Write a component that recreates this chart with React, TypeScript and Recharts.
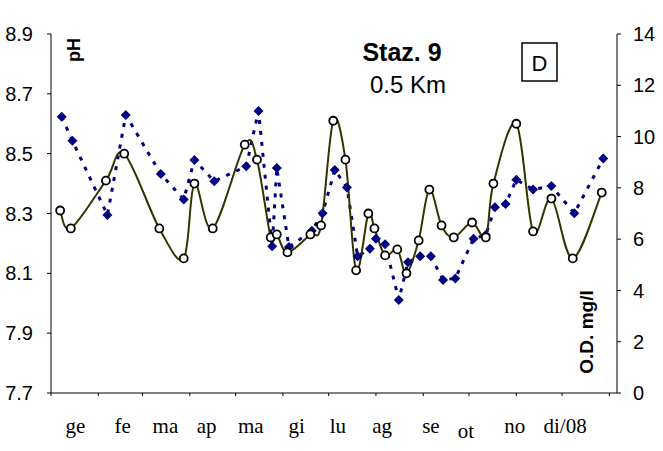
import React from 'react';
import { LineChart, Line, XAxis, YAxis } from 'recharts';

// giorni dal 1 gennaio 2008
const monthStarts = [0, 31, 60, 91, 121, 152, 182, 213, 244, 274, 305, 335, 366];
const monthLabels = ['ge', 'fe', 'ma', 'ap', 'ma', 'gi', 'lu', 'ag', 'se', 'ot', 'no', 'di/08'];
// posizione (giorno) delle etichette dei mesi, come nel grafico originale
const labelDays = [16, 47, 75, 102, 131, 161, 188, 217, 249, 272, 304, 337];
const phTicks = [7.7, 7.9, 8.1, 8.3, 8.5, 8.7, 8.9];
const odTicks = [0, 2, 4, 6, 8, 10, 12, 14];

const phDays = [6, 13, 36, 48, 71, 87, 94, 106, 127, 135, 144, 148, 155, 170, 177, 185, 193, 200,
  208, 212, 219, 227, 233, 241, 248, 256, 264, 276, 285, 290, 305, 316, 328, 342, 361];
const phValues = [8.31, 8.25, 8.41, 8.5, 8.25, 8.15, 8.4, 8.25, 8.53, 8.48, 8.22, 8.23, 8.17, 8.23,
  8.26, 8.61, 8.48, 8.11, 8.3, 8.25, 8.16, 8.18, 8.1, 8.21, 8.38, 8.26, 8.22, 8.27, 8.22, 8.4,
  8.6, 8.24, 8.35, 8.15, 8.37];

const odDays = [7, 14, 37, 49, 72, 87, 94, 107, 128, 136, 145, 148, 156, 171, 178, 186, 194, 201,
  209, 213, 219, 228, 234, 242, 249, 257, 265, 277, 285, 291, 298, 305, 316, 328, 343, 362];
const odValues = [10.77, 9.84, 6.94, 10.84, 8.54, 7.55, 9.09, 8.26, 8.84, 11.0, 5.72, 8.77, 5.69,
  6.33, 7.01, 8.7, 8.01, 5.33, 5.63, 6.02, 5.8, 3.63, 5.1, 5.33, 5.33, 4.41, 4.47, 6.02, 6.16,
  7.24, 7.37, 8.32, 7.94, 8.07, 7.01, 9.14];

const phData = phDays.map((d, i) => ({ day: d, ph: phValues[i] }));
const odData = odDays.map((d, i) => ({ day: d, od: odValues[i] }));

const W = 663;
const H = 451;
const leftW = 51;
const rightW = 46;
const maxDay = 371;
const pxPerDay = (W - leftW - rightW) / maxDay;

// curva "smussata" tipo Excel (Catmull-Rom)
const smoothCurve = (ctx: any) => {
  let pts: number[][] = [];
  return {
    areaStart() {},
    areaEnd() {},
    lineStart() { pts = []; },
    point(x: number, y: number) { pts.push([+x, +y]); },
    lineEnd() {
      if (!pts.length) return;
      ctx.moveTo(pts[0][0], pts[0][1]);
      for (let i = 0; i < pts.length - 1; i++) {
        const p0 = pts[i - 1] || pts[i];
        const p1 = pts[i];
        const p2 = pts[i + 1];
        const p3 = pts[i + 2] || p2;
        const t = 1 / 6;
        ctx.bezierCurveTo(
          p1[0] + (p2[0] - p0[0]) * t, p1[1] + (p2[1] - p0[1]) * t,
          p2[0] - (p3[0] - p1[0]) * t, p2[1] - (p3[1] - p1[1]) * t,
          p2[0], p2[1]
        );
      }
    },
  };
};

const Diamond = (props: any) => {
  const { cx, cy } = props;
  if (cx == null || cy == null) return <g />;
  const s = 5;
  return <polygon points={`${cx},${cy - s} ${cx + s},${cy} ${cx},${cy + s} ${cx - s},${cy}`} fill="#000080" />;
};

const MonthTick = (props: any) => {
  const { x, y, index } = props;
  const label = monthLabels[index];
  if (!label) return <g />;
  const shift = (labelDays[index] - monthStarts[index]) * pxPerDay;
  return (
    <text x={x + shift} y={y} dy={label === 'ot' ? 21 : 16} textAnchor="middle"
      fontFamily="'Liberation Serif', 'Times New Roman', serif" fontSize={21} fill="#000">
      {label}
    </text>
  );
};

const tickStyle = { fontSize: 20, fill: '#000' };

export default function App() {
  return (
    <div style={{ position: 'absolute', left: 0, top: 0, width: W, height: H, background: '#fff',
      fontFamily: "'Liberation Sans', Arial, sans-serif" }}>
      <LineChart width={W} height={H} margin={{ top: 34, right: 0, bottom: 0, left: 0 }}>
        <XAxis type="number" dataKey="day" domain={[0, maxDay]} ticks={monthStarts}
          tick={<MonthTick />} tickSize={3} tickMargin={21} height={58} stroke="#000" allowDataOverflow />
        <YAxis yAxisId="ph" domain={[7.7, 8.9]} ticks={phTicks} tickFormatter={(v: number) => v.toFixed(1)}
          width={leftW} tickSize={4} tickMargin={14} stroke="#000" tick={tickStyle} allowDataOverflow />
        <YAxis yAxisId="od" orientation="right" domain={[0, 14]} ticks={odTicks} width={rightW}
          tickSize={4} tickMargin={12} stroke="#000" tick={tickStyle} allowDataOverflow />
        <Line data={odData} yAxisId="od" dataKey="od" type="linear" stroke="#000080"
          strokeWidth={3} strokeDasharray="4 7" dot={<Diamond />} activeDot={false} isAnimationActive={false} />
        <Line data={phData} yAxisId="ph" dataKey="ph" type={smoothCurve as any} stroke="#333300"
          strokeWidth={2} dot={{ r: 4, fill: '#fff', stroke: '#000', strokeWidth: 1.8 }} activeDot={false}
          isAnimationActive={false} />
      </LineChart>
      <svg width={W} height={H} style={{ position: 'absolute', left: 0, top: 0, pointerEvents: 'none' }}>
        <text x={402} y={61} textAnchor="middle" fontSize={25} fontWeight="bold">Staz. 9</text>
        <text x={408} y={93} textAnchor="middle" fontSize={24}>0.5 Km</text>
        <rect x={522} y={43} width={35} height={38} fill="none" stroke="#000" strokeWidth={1.5} />
        <text x={539.5} y={71} textAnchor="middle" fontSize={22}>D</text>
        <text transform="translate(80 50) rotate(-90)" textAnchor="middle" fontSize={18} fontWeight="bold">pH</text>
        <text transform="translate(593 332) rotate(-90)" textAnchor="middle" fontSize={19} fontWeight="bold">O.D. mg/l</text>
      </svg>
    </div>
  );
}
